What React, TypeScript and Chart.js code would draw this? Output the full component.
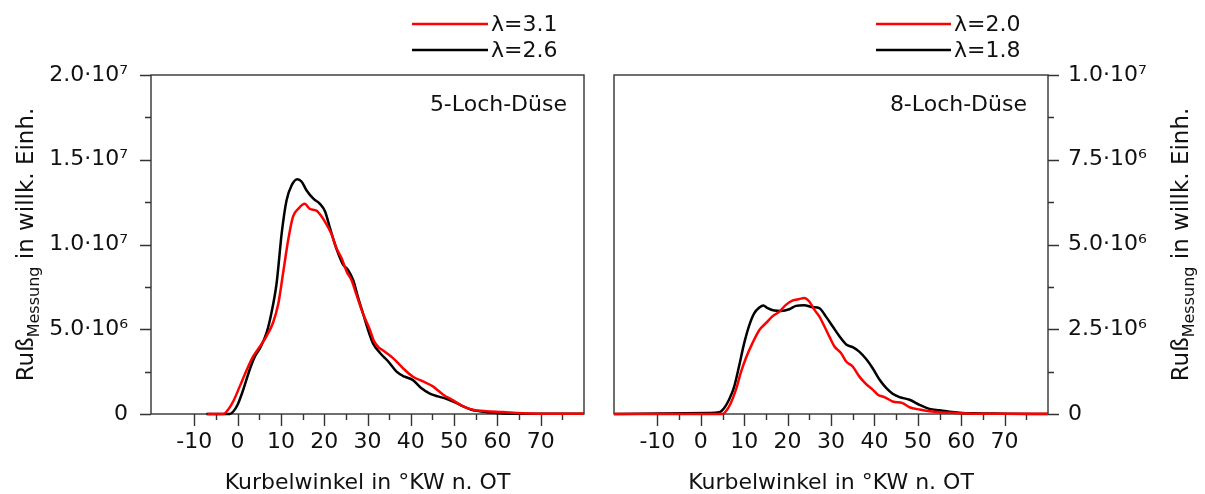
import React, { useEffect, useRef } from "react";
import { Chart, registerables } from "chart.js";

Chart.register(...registerables);

const FONT = "'DejaVu Sans', Verdana, sans-serif";
const TEXT = "#111";
const AXIS = "#333";
const MIO = 1e6;

// 5-Loch-Düse, λ=3.1: Kurbelwinkel [°KW n. OT] / Ruß [10^6 willk. Einh.]
const angle5L31 = [-7, -3.3, -2.2, -1, 0.5, 2.1, 3.6, 5.2, 6.7, 8.2, 9.4, 10.5, 11.7, 12.8, 14, 15.5, 16.7, 18.2, 19.4, 20.5, 21.7, 22.8, 24, 25.2, 26.3, 27.5, 29, 30.5, 31.5, 32.5, 33.6, 35.9, 38.2, 40.5, 42.8, 45.1, 47.5, 49.8, 52.1, 54.4, 57.5, 61.3, 64.4, 67.5, 72, 80];
const soot5L31 = [0, 0, 0.25, 0.75, 1.63, 2.6, 3.4, 4.0, 4.6, 5.4, 6.5, 8.3, 10.3, 11.65, 12.1, 12.4, 12.1, 12.0, 11.65, 11.2, 10.6, 9.8, 9.2, 8.4, 7.9, 7.0, 5.9, 5.0, 4.3, 3.95, 3.75, 3.3, 2.7, 2.2, 1.92, 1.63, 1.14, 0.8, 0.45, 0.25, 0.16, 0.12, 0.06, 0.03, 0.02, 0.02];

// 5-Loch-Düse, λ=2.6
const angle5L26 = [-7.2, -1.8, -1, 0, 1.3, 2.9, 4, 5.2, 6.7, 7.8, 9, 10.2, 11.3, 12.5, 13.8, 14.8, 15.9, 17.5, 19, 20.2, 21.3, 22.5, 23.2, 24.4, 25.5, 26.7, 27.8, 29, 30.2, 31.3, 32.9, 34.8, 36.7, 38.6, 40.5, 42.4, 44.4, 46.3, 48.2, 50.2, 52.1, 54, 55.9, 59.8, 63.6, 70, 80];
const soot5L26 = [0, 0, 0.15, 0.55, 1.43, 2.7, 3.4, 3.9, 4.8, 5.95, 7.7, 10.7, 12.6, 13.5, 13.85, 13.7, 13.2, 12.7, 12.4, 11.95, 11.0, 10.0, 9.5, 8.8, 8.5, 7.9, 6.9, 5.9, 4.9, 4.15, 3.6, 3.1, 2.5, 2.2, 2.0, 1.53, 1.2, 1.04, 0.9, 0.69, 0.45, 0.25, 0.16, 0.06, 0.02, 0.01, 0.01];

// 8-Loch-Düse, λ=2.0
const angle8L20 = [-20, 5, 5.8, 6.9, 8.1, 9.2, 10.4, 11.9, 13.5, 15, 16.5, 18.1, 19.6, 21.2, 22.7, 23.8, 25, 26.2, 27.3, 28.5, 29.6, 30.8, 32.3, 33.5, 35, 36.5, 38.1, 39.6, 40.8, 42.3, 44.2, 46.5, 48.1, 50.4, 52.7, 55, 58.8, 65, 80];
const soot8L20 = [0, 0, 0.08, 0.32, 0.72, 1.21, 1.65, 2.09, 2.48, 2.68, 2.88, 3.02, 3.22, 3.35, 3.39, 3.42, 3.32, 3.07, 2.88, 2.58, 2.29, 1.99, 1.8, 1.55, 1.4, 1.11, 0.88, 0.72, 0.57, 0.5, 0.37, 0.32, 0.2, 0.13, 0.08, 0.05, 0.03, 0.01, 0.01];

// 8-Loch-Düse, λ=1.8
const angle8L18 = [-20, 1.9, 4.2, 5.4, 6.5, 7.7, 8.8, 10, 11.2, 12.3, 13.5, 14.4, 15.4, 16.9, 18.5, 20.4, 21.9, 23.8, 25.8, 27.3, 28.8, 30.4, 31.9, 33.5, 35, 36.5, 38.1, 39.6, 41.2, 42.7, 44.2, 45.8, 48.1, 50.4, 52.7, 55, 57.3, 59.6, 62.7, 70, 80];
const soot8L18 = [0, 0.03, 0.05, 0.18, 0.42, 0.81, 1.4, 2.09, 2.63, 2.97, 3.14, 3.2, 3.12, 3.05, 3.04, 3.09, 3.19, 3.21, 3.15, 3.12, 2.88, 2.58, 2.3, 2.05, 1.97, 1.84, 1.62, 1.35, 1.01, 0.77, 0.6, 0.5, 0.42, 0.27, 0.15, 0.11, 0.07, 0.04, 0.02, 0.01, 0];

// Axis ticks and labels
const xMajorTicks = [-10, 0, 10, 20, 30, 40, 50, 60, 70];
const xMinorTicks = [-5, 5, 15, 25, 35, 45, 55, 65, 75];
const yTicks5 = [0, 5e6, 1e7, 1.5e7, 2e7];
const yMinor5 = [2.5e6, 7.5e6, 1.25e7, 1.75e7];
const yTickLabels5 = ["0", "5.0·10⁶", "1.0·10⁷", "1.5·10⁷", "2.0·10⁷"];
const yTicks8 = [0, 2.5e6, 5e6, 7.5e6, 1e7];
const yMinor8 = [1.25e6, 3.75e6, 6.25e6, 8.75e6];
const yTickLabels8 = ["0", "2.5·10⁶", "5.0·10⁶", "7.5·10⁶", "1.0·10⁷"];

const legend5 = ["λ=3.1", "λ=2.6"];
const legend8 = ["λ=2.0", "λ=1.8"];
const seriesColors = ["#ff0000", "#000000"];
const xTitle = "Kurbelwinkel in °KW n. OT";
const yTitleMain = "Ruß";
const yTitleSub = "Messung";
const yTitleRest = " in willk. Einh.";
const panelNotes = ["5-Loch-Düse", "8-Loch-Düse"];

const toPoints = (xs: number[], ys: number[]) => xs.map((x, i) => ({ x, y: ys[i] * MIO }));

type Decor = {
  side: "left" | "right";
  yMinor: number[];
  legend: string[];
  legendX: [number, number];
  legendY: [number, number];
  note: string;
  noteInset: number;
  yTitleBaseline: number;
};

const decorPlugin = {
  id: "panelDecor",
  beforeDatasetsDraw(chart: any) {
    const o: Decor = chart.options.plugins.panelDecor;
    const { ctx, chartArea: a, scales } = chart;
    const xs = scales.x;
    const ys = scales.y;
    ctx.save();
    ctx.strokeStyle = AXIS;
    ctx.lineWidth = 1.4;
    ctx.strokeRect(a.left, a.top, a.right - a.left, a.bottom - a.top);
    ctx.beginPath();
    const xTick = (v: number, len: number) => {
      const px = Math.round(xs.getPixelForValue(v)) + 0.5;
      ctx.moveTo(px, a.bottom);
      ctx.lineTo(px, a.bottom + len);
    };
    xMajorTicks.forEach((v) => xTick(v, 12));
    xMinorTicks.forEach((v) => xTick(v, 6));
    const edge = o.side === "left" ? a.left : a.right;
    const dir = o.side === "left" ? -1 : 1;
    const yTick = (v: number, len: number) => {
      const py = Math.round(ys.getPixelForValue(v)) + 0.5;
      ctx.moveTo(edge, py);
      ctx.lineTo(edge + dir * len, py);
    };
    (o.side === "left" ? yTicks5 : yTicks8).forEach((v) => yTick(v, 11));
    o.yMinor.forEach((v) => yTick(v, 6));
    ctx.stroke();
    ctx.restore();
  },
  afterDraw(chart: any) {
    const o: Decor = chart.options.plugins.panelDecor;
    const { ctx, chartArea: a } = chart;
    ctx.save();
    // legend
    o.legend.forEach((label, i) => {
      const y = o.legendY[i];
      ctx.strokeStyle = seriesColors[i];
      ctx.lineWidth = 2.5;
      ctx.beginPath();
      ctx.moveTo(o.legendX[0], y);
      ctx.lineTo(o.legendX[1], y);
      ctx.stroke();
      ctx.fillStyle = TEXT;
      ctx.font = `22px ${FONT}`;
      ctx.textAlign = "left";
      ctx.textBaseline = "middle";
      ctx.fillText(label, o.legendX[1] + 3, y + 1);
    });
    // panel note
    ctx.font = `22px ${FONT}`;
    ctx.fillStyle = TEXT;
    ctx.textAlign = "right";
    ctx.textBaseline = "alphabetic";
    ctx.fillText(o.note, a.right - o.noteInset, 111);
    // x title
    ctx.textAlign = "center";
    ctx.fillText(xTitle, (a.left + a.right) / 2, 489);
    // y title with subscript
    const mainFont = `23px ${FONT}`;
    const subFont = `16px ${FONT}`;
    ctx.font = mainFont;
    const w1 = ctx.measureText(yTitleMain).width;
    const w3 = ctx.measureText(yTitleRest).width;
    ctx.font = subFont;
    const w2 = ctx.measureText(yTitleSub).width;
    const total = w1 + w2 + w3;
    ctx.translate(o.yTitleBaseline, (a.top + a.bottom) / 2);
    ctx.rotate(-Math.PI / 2);
    ctx.textAlign = "left";
    let x0 = -total / 2;
    ctx.font = mainFont;
    ctx.fillText(yTitleMain, x0, 0);
    x0 += w1;
    ctx.font = subFont;
    ctx.fillText(yTitleSub, x0, 6);
    x0 += w2;
    ctx.font = mainFont;
    ctx.fillText(yTitleRest, x0, 0);
    ctx.restore();
  },
};

function makeConfig(
  sets: { label: string; data: { x: number; y: number }[]; color: string }[],
  yMax: number,
  yTicks: number[],
  yLabels: string[],
  side: "left" | "right",
  decor: Decor,
  padding: any,
  yWidth: number
): any {
  return {
    type: "line",
    data: {
      datasets: sets.map((s) => ({
        label: s.label,
        data: s.data,
        borderColor: s.color,
        backgroundColor: s.color,
        borderWidth: 2.5,
        pointRadius: 0,
        fill: false,
        cubicInterpolationMode: "monotone",
        clip: false,
      })),
    },
    options: {
      responsive: false,
      animation: false,
      devicePixelRatio: 1,
      layout: { padding },
      plugins: {
        legend: { display: false },
        tooltip: { enabled: false },
        panelDecor: decor,
      },
      scales: {
        x: {
          type: "linear",
          min: -20,
          max: 80,
          grid: { display: false, drawTicks: false },
          border: { display: false },
          afterBuildTicks: (s: any) => {
            s.ticks = xMajorTicks.map((value) => ({ value }));
          },
          afterFit: (s: any) => {
            s.height = 80;
          },
          ticks: {
            autoSkip: false,
            maxRotation: 0,
            padding: 15,
            color: TEXT,
            font: { family: FONT, size: 22 },
            callback: (v: number) => String(v),
          },
        },
        y: {
          type: "linear",
          position: side,
          min: 0,
          max: yMax,
          grid: { display: false, drawTicks: false },
          border: { display: false },
          afterBuildTicks: (s: any) => {
            s.ticks = yTicks.map((value) => ({ value }));
          },
          afterFit: (s: any) => {
            s.width = yWidth;
          },
          ticks: {
            autoSkip: false,
            padding: side === "left" ? 23 : 20,
            color: TEXT,
            font: { family: FONT, size: 22 },
            callback: (v: number) => yLabels[yTicks.indexOf(v)] ?? "",
          },
        },
      },
    },
    plugins: [decorPlugin],
  };
}

export default function App() {
  const leftRef = useRef<HTMLCanvasElement>(null);
  const rightRef = useRef<HTMLCanvasElement>(null);

  useEffect(() => {
    const left = new Chart(
      leftRef.current!,
      makeConfig(
        [
          { label: legend5[0], data: toPoints(angle5L31, soot5L31), color: seriesColors[0] },
          { label: legend5[1], data: toPoints(angle5L26, soot5L26), color: seriesColors[1] },
        ],
        2e7,
        yTicks5,
        yTickLabels5,
        "left",
        {
          side: "left",
          yMinor: yMinor5,
          legend: legend5,
          legendX: [412, 488],
          legendY: [24, 50],
          note: panelNotes[0],
          noteInset: 17,
          yTitleBaseline: 33,
        },
        { top: 75, right: 16, left: 0, bottom: 0 },
        151
      )
    );
    const right = new Chart(
      rightRef.current!,
      makeConfig(
        [
          { label: legend8[0], data: toPoints(angle8L20, soot8L20), color: seriesColors[0] },
          { label: legend8[1], data: toPoints(angle8L18, soot8L18), color: seriesColors[1] },
        ],
        1e7,
        yTicks8,
        yTickLabels8,
        "right",
        {
          side: "right",
          yMinor: yMinor8,
          legend: legend8,
          legendX: [276, 351],
          legendY: [24, 50],
          note: panelNotes[1],
          noteInset: 21,
          yTitleBaseline: 588,
        },
        { top: 75, right: 0, left: 14, bottom: 0 },
        157
      )
    );
    return () => {
      left.destroy();
      right.destroy();
    };
  }, []);

  return (
    <div style={{ position: "absolute", left: 0, top: 0, width: 1205, height: 494, background: "#fff" }}>
      <canvas ref={leftRef} width={600} height={494} style={{ position: "absolute", left: 0, top: 0 }} />
      <canvas ref={rightRef} width={605} height={494} style={{ position: "absolute", left: 600, top: 0 }} />
    </div>
  );
}
